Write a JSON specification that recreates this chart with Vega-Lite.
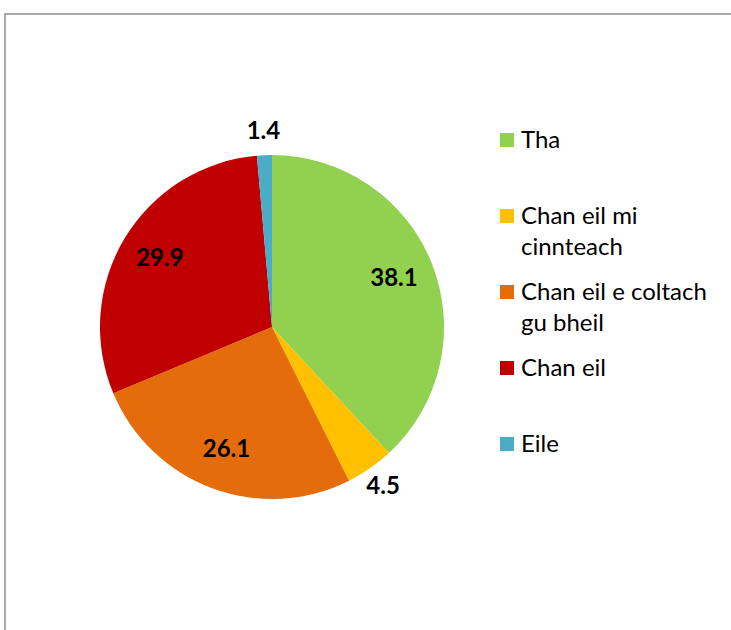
{
  "$schema": "https://vega.github.io/schema/vega-lite/v6.json",
  "width": 800,
  "height": 700,
  "autosize": "none",
  "padding": {"left": 5, "top": 14, "right": 0, "bottom": 0},
  "background": "white",
  "view": {"stroke": "#8c8c8c", "strokeWidth": 1.5, "fill": null},
  "config": {
    "font": "Lato"
  },
  "data": {
    "values": [
      {"category": "Tha", "value": 38.1, "order": 1},
      {"category": "Chan eil mi cinnteach", "value": 4.5, "order": 2},
      {"category": "Chan eil e coltach gu bheil", "value": 26.1, "order": 3},
      {"category": "Chan eil", "value": 29.9, "order": 4},
      {"category": "Eile", "value": 1.4, "order": 5}
    ]
  },
  "encoding": {
    "theta": {"field": "value", "type": "quantitative", "stack": true},
    "order": {"field": "order", "type": "quantitative"}
  },
  "layer": [
    {
      "mark": {"type": "arc", "outerRadius": 172, "x": 267, "y": 313},
      "encoding": {
        "color": {
          "field": "category",
          "type": "nominal",
          "sort": ["Tha", "Chan eil mi cinnteach", "Chan eil e coltach gu bheil", "Chan eil", "Eile"],
          "scale": {
            "domain": ["Tha", "Chan eil mi cinnteach", "Chan eil e coltach gu bheil", "Chan eil", "Eile"],
            "range": ["#92D050", "#FFC000", "#E46C0A", "#C00000", "#4BACC6"]
          },
          "legend": {
            "title": null,
            "orient": "none",
            "legendX": 490,
            "legendY": 114,
            "symbolType": "square",
            "symbolSize": 196,
            "symbolStrokeWidth": 0,
            "labelFontSize": 24,
            "labelFont": "Lato",
            "labelColor": "#000000",
            "labelLimit": 300,
            "labelOffset": 2,
            "labelBaseline": "top",
            "rowPadding": 20,
            "labelExpr": "datum.label == 'Chan eil mi cinnteach' ? ['Chan eil mi', 'cinnteach'] : datum.label == 'Chan eil e coltach gu bheil' ? ['Chan eil e coltach', 'gu bheil'] : [datum.label, '']",
            "encode": {"labels": {"update": {"dy": {"value": -11}, "lineHeight": {"value": 31}}}}
          }
        }
      }
    },
    {
      "mark": {"type": "text", "x": 267, "y": 313, "radius": 131, "fontSize": 24, "fontWeight": "bold", "font": "Lato", "color": "#000000"},
      "encoding": {
        "text": {"condition": {"test": "datum.value < 5", "value": ""}, "field": "value", "type": "quantitative", "format": ".1f"}
      }
    },
    {
      "mark": {"type": "text", "x": 267, "y": 313, "radius": 195, "fontSize": 24, "fontWeight": "bold", "font": "Lato", "color": "#000000"},
      "encoding": {
        "text": {"condition": {"test": "datum.value >= 5", "value": ""}, "field": "value", "type": "quantitative", "format": ".1f"}
      }
    }
  ]
}
